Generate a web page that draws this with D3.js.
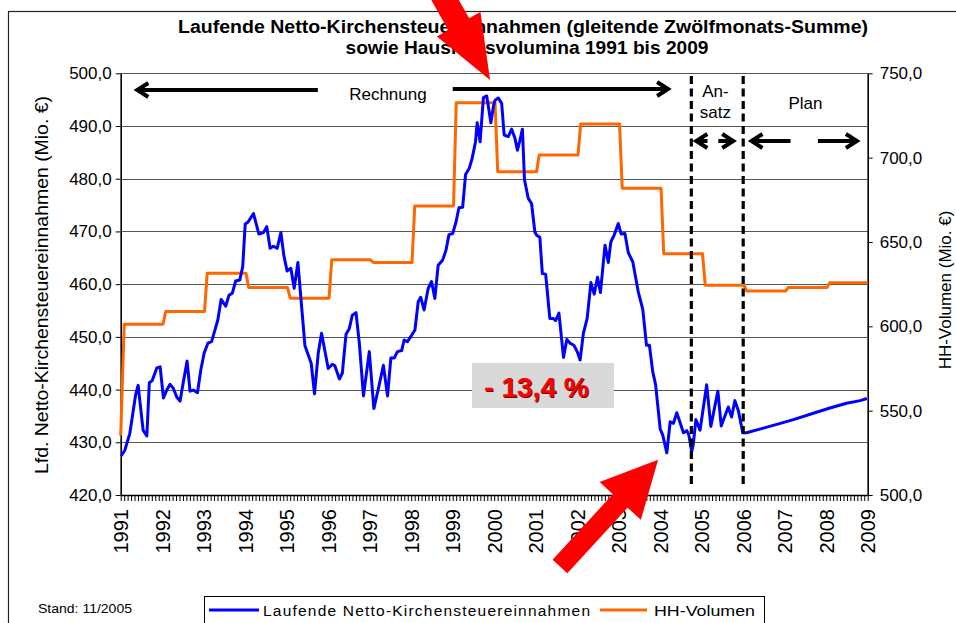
<!DOCTYPE html>
<html>
<head>
<meta charset="utf-8">
<script src="https://cdn.jsdelivr.net/npm/d3@7"></script>
<style>
  body { margin: 0; background: #fff; }
  svg { display: block; font-family: Arial, "Liberation Sans", sans-serif; }
</style>
</head>
<body>
<div id="chart"></div>
<script>
const w = 956, h = 623;
const plot = {left: 120.7, right: 867.7, top: 73.3, bottom: 495};

// axis ticks
const yearLabels = d3.range(1991, 2010);
const leftTicks = [420, 430, 440, 450, 460, 470, 480, 490, 500];
const rightTicks = [500, 550, 600, 650, 700, 750];

// laufende Netto-Kirchensteuereinnahmen (Mio. EUR)
const blueYears = [1991.01,1991.10,1991.22,1991.36,1991.42,1991.54,1991.63,1991.69,1991.76,1991.87,
  1991.95,1992.03,1992.11,1992.19,1992.27,1992.35,1992.43,1992.51,1992.60,1992.67,
  1992.75,1992.85,1992.93,1993.01,1993.10,1993.19,1993.26,1993.34,1993.42,1993.53,
  1993.61,1993.69,1993.77,1993.87,1993.94,1994.00,1994.07,1994.20,1994.33,1994.44,
  1994.52,1994.60,1994.68,1994.77,1994.86,1994.93,1995.01,1995.10,1995.18,1995.27,
  1995.36,1995.44,1995.59,1995.67,1995.76,1995.84,1996.00,1996.10,1996.16,1996.27,
  1996.34,1996.43,1996.51,1996.58,1996.67,1996.75,1996.85,1996.99,1997.10,1997.21,
  1997.33,1997.43,1997.51,1997.59,1997.67,1997.77,1997.83,1997.91,1998.01,1998.09,
  1998.17,1998.23,1998.31,1998.41,1998.49,1998.57,1998.65,1998.76,1998.84,1998.91,
  1999.00,1999.08,1999.15,1999.24,1999.31,1999.40,1999.47,1999.55,1999.59,1999.66,
  1999.74,1999.82,1999.92,1999.98,2000.02,2000.10,2000.18,2000.24,2000.34,2000.42,
  2000.50,2000.56,2000.62,2000.68,2000.73,2000.82,2000.90,2000.98,2001.02,2001.10,
  2001.16,2001.24,2001.34,2001.42,2001.48,2001.56,2001.67,2001.75,2001.83,2001.92,
  2002.00,2002.07,2002.15,2002.24,2002.33,2002.41,2002.49,2002.56,2002.67,2002.75,
  2002.81,2002.89,2002.99,2003.06,2003.15,2003.23,2003.34,2003.47,2003.58,2003.67,
  2003.74,2003.82,2003.89,2004.00,2004.06,2004.16,2004.24,2004.32,2004.40,2004.56,
  2004.64,2004.69,2004.76,2004.80,2004.86,2004.96,2005.12,2005.22,2005.39,2005.47,
  2005.64,2005.72,2005.80,2005.88,2005.99,2006.08,2006.40,2006.81,2007.21,2007.69,
  2008.09,2008.49,2008.82,2008.98];
const blueValues = [427.4,428.5,431.7,439.0,440.8,432.3,431.2,441.3,441.7,444.1,
  444.3,438.4,439.9,441.0,440.2,438.6,437.8,441.5,445.4,439.7,
  439.9,439.4,443.7,446.9,448.8,449.1,451.0,453.2,457.1,455.8,
  457.9,458.3,460.6,460.8,463.3,471.4,471.8,473.4,469.5,469.8,
  470.9,466.8,467.2,466.8,469.8,465.5,462.5,463.0,459.2,464.1,
  455.7,448.3,445.0,439.2,446.9,450.7,444.0,444.8,444.5,442.0,
  443.1,450.5,451.6,454.1,454.6,448.8,438.8,447.2,436.4,440.2,
  444.6,438.8,446.0,446.0,447.2,447.4,449.4,449.1,450.3,451.3,
  456.7,457.5,455.1,459.2,460.5,457.3,463.6,464.6,466.5,469.4,
  469.6,471.8,474.5,474.6,480.8,482.0,483.9,487.0,490.6,487.0,
  495.4,495.7,490.6,493.7,494.9,495.3,494.3,488.3,488.0,489.4,
  487.7,485.4,487.3,489.4,479.8,476.3,475.3,469.9,469.3,468.9,
  462.0,461.9,453.5,453.5,453.1,454.5,446.1,449.5,448.8,448.4,
  447.2,445.6,450.7,453.5,460.3,458.1,461.3,458.4,467.4,464.1,
  468.0,469.3,471.5,469.5,469.6,466.0,464.2,458.6,455.2,448.4,
  448.4,443.4,440.9,432.5,431.4,428.0,433.9,433.6,435.6,431.8,
  432.2,431.4,428.2,429.8,434.3,432.3,440.9,433.0,439.7,433.1,
  436.7,434.8,437.9,436.1,431.8,431.8,432.5,433.4,434.3,435.5,
  436.5,437.4,437.9,438.3];

// HH-Volumen (Mio. EUR) per year, right axis
const hhYears = d3.range(1991, 2009);
const hhValues = [601.3, 608.8, 631.5, 623.0, 616.7, 639.4, 637.8, 671.4, 732.6,
  691.7, 701.6, 720.0, 681.9, 643.0, 624.4, 620.9, 623.0, 625.8];
const hhFirstMonth = 535.2;

const phaseBreaks = [2004.75, 2006.0];

const svg = d3.select("#chart").append("svg")
  .attr("width", w)
  .attr("height", h);

svg.append("rect").attr("width", w).attr("height", h).attr("fill", "#fff");

// outer frame
svg.append("rect")
  .attr("x", 8.5).attr("y", 11.5)
  .attr("width", 980).attr("height", 700)
  .attr("fill", "none").attr("stroke", "#222").attr("stroke-width", 1.2);

const x = d3.scaleLinear().domain([1991, 2009]).range([plot.left, plot.right]);
const yL = d3.scaleLinear().domain([420, 500]).range([plot.bottom, plot.top]);
const yR = d3.scaleLinear().domain([500, 750]).range([plot.bottom, plot.top]);

const fmt = d => d3.format(".1f")(d).replace(".", ",");

// gridlines
svg.append("g")
  .selectAll("line")
  .data(leftTicks.slice(1))
  .enter()
  .append("line")
  .attr("x1", plot.left).attr("x2", plot.right)
  .attr("y1", d => Math.round(yL(d)) + 0.5).attr("y2", d => Math.round(yL(d)) + 0.5)
  .attr("stroke", "#555").attr("stroke-width", 1);

// left axis
const leftAxis = svg.append("g")
  .attr("transform", "translate(" + plot.left + ",0)")
  .call(d3.axisLeft(yL).tickValues(leftTicks).tickSize(5).tickSizeOuter(0).tickFormat(fmt));

// right axis
const rightAxis = svg.append("g")
  .attr("transform", "translate(" + plot.right + ",0)")
  .call(d3.axisRight(yR).tickValues(rightTicks).tickSize(5).tickSizeOuter(0).tickFormat(fmt));

// bottom axis with monthly ticks
const months = d3.range(0, 217).map(i => 1991 + i / 12);
const bottomAxis = svg.append("g")
  .attr("transform", "translate(0," + plot.bottom + ")")
  .call(d3.axisBottom(x).tickValues(months).tickSize(6).tickSizeOuter(0).tickFormat(""));

[leftAxis, rightAxis, bottomAxis].forEach(g => {
  g.select(".domain").attr("stroke", "#000").attr("stroke-width", 1.6);
  g.selectAll(".tick line").attr("stroke", "#000").attr("stroke-width", 1);
  g.selectAll(".tick text")
    .attr("fill", "#000")
    .style("font-size", "17px")
    .style("font-family", "Arial, 'Liberation Sans', sans-serif");
});
leftAxis.selectAll(".tick text").attr("x", -9);
rightAxis.selectAll(".tick text").attr("x", 12);

// year labels, rotated
svg.append("g")
  .selectAll("text")
  .data(yearLabels)
  .enter()
  .append("text")
  .attr("transform", d => "translate(" + (x(d) + 0.5) + ",509) rotate(-90)")
  .attr("text-anchor", "end")
  .attr("dy", "0.36em")
  .style("font-size", "20px")
  .text(d => d);

// axis titles
svg.append("text")
  .attr("transform", "translate(42,285) rotate(-90)")
  .attr("text-anchor", "middle")
  .attr("dy", "0.36em")
  .attr("textLength", 378).attr("lengthAdjust", "spacingAndGlyphs")
  .style("font-size", "18px")
  .text("Lfd. Netto-Kirchensteuereinnahmen (Mio. €)");

svg.append("text")
  .attr("transform", "translate(945,290) rotate(-90)")
  .attr("text-anchor", "middle")
  .attr("dy", "0.36em")
  .style("font-size", "17px")
  .text("HH-Volumen (Mio. €)");

// title
svg.append("text")
  .attr("x", 523).attr("y", 33)
  .attr("text-anchor", "middle")
  .attr("textLength", 690).attr("lengthAdjust", "spacingAndGlyphs")
  .style("font-size", "18px").style("font-weight", "bold")
  .text("Laufende Netto-Kirchensteuereinnahmen (gleitende Zwölfmonats-Summe)");
svg.append("text")
  .attr("x", 527).attr("y", 54)
  .attr("text-anchor", "middle")
  .attr("textLength", 363).attr("lengthAdjust", "spacingAndGlyphs")
  .style("font-size", "18px").style("font-weight", "bold")
  .text("sowie Haushaltsvolumina 1991 bis 2009");

// HH-Volumen step line
let hhPoints = [[1991.0, hhFirstMonth]];
hhYears.forEach((yr, i) => {
  hhPoints.push([yr + 0.085, hhValues[i]]);
  hhPoints.push([Math.min(yr + 1.02, 2009), hhValues[i]]);
});

svg.append("path")
  .datum(hhPoints)
  .attr("fill", "none")
  .attr("stroke", "#ff6600")
  .attr("stroke-width", 3)
  .attr("stroke-linejoin", "round")
  .attr("d", d3.line().x(d => x(d[0])).y(d => yR(d[1])));

// Kirchensteuer line
const blue = d3.zip(blueYears, blueValues);
svg.append("path")
  .datum(blue)
  .attr("fill", "none")
  .attr("stroke", "#0000ff")
  .attr("stroke-width", 3)
  .attr("stroke-linejoin", "round")
  .attr("d", d3.line().x(d => x(d[0])).y(d => yL(d[1])));

// phase separators
svg.append("g")
  .selectAll("line")
  .data(phaseBreaks)
  .enter()
  .append("line")
  .attr("x1", d => x(d)).attr("x2", d => x(d))
  .attr("y1", 76).attr("y2", 484)
  .attr("stroke", "#000").attr("stroke-width", 3.2)
  .attr("stroke-dasharray", "8,4.5");

// black arrows
function arrow(x1, x2, yy) {
  const dir = x2 > x1 ? -1 : 1;
  svg.append("line")
    .attr("x1", x1).attr("x2", x2 + dir * 2).attr("y1", yy).attr("y2", yy)
    .attr("stroke", "#000").attr("stroke-width", 4);
  svg.append("path")
    .attr("d", "M" + (x2 + dir * 11) + "," + (yy - 7) + "L" + x2 + "," + yy + "L" + (x2 + dir * 11) + "," + (yy + 7))
    .attr("fill", "none").attr("stroke", "#000").attr("stroke-width", 4)
    .attr("stroke-linejoin", "miter");
}
arrow(x(1995.75), x(1991.4), 90);
arrow(x(1999.0), x(2004.19), 89);
arrow(x(2005.14), x(2004.87), 141);
arrow(x(2005.4), x(2005.76), 141);
arrow(x(2007.14), x(2006.2), 141);
arrow(x(2007.8), x(2008.74), 141);

const note = (tx, ty, str) => svg.append("text")
  .attr("x", tx).attr("y", ty).attr("text-anchor", "middle")
  .attr("dy", "0.35em").style("font-size", "17px").text(str);
note(x(1997.44), 94, "Rechnung");
note(x(2005.33), 91, "An-");
note(x(2005.33), 112, "satz");
note(x(2007.5), 103, "Plan");

// -13,4 % label
svg.append("rect")
  .attr("x", 472).attr("y", 363)
  .attr("width", 142).attr("height", 45)
  .attr("fill", "#d9d9d9");
svg.append("text")
  .attr("x", 537.5).attr("y", 397.5)
  .attr("text-anchor", "middle")
  .style("font-size", "28px").style("font-weight", "bold")
  .attr("fill", "#6a0000")
  .text("- 13,4 %");
svg.append("text")
  .attr("x", 536.5).attr("y", 396.5)
  .attr("text-anchor", "middle")
  .style("font-size", "28px").style("font-weight", "bold")
  .attr("fill", "#ff0000")
  .text("- 13,4 %");

// big red arrows
function blockArrow(tail, tip, shaftW, headW, headL) {
  const dx = tip[0] - tail[0], dy = tip[1] - tail[1];
  const len = Math.hypot(dx, dy);
  const ux = dx / len, uy = dy / len;
  const nx = -uy, ny = ux;
  const bx = tip[0] - ux * headL, by = tip[1] - uy * headL;
  const pts = [
    [tail[0] + nx * shaftW / 2, tail[1] + ny * shaftW / 2],
    [bx + nx * shaftW / 2, by + ny * shaftW / 2],
    [bx + nx * headW / 2, by + ny * headW / 2],
    tip,
    [bx - nx * headW / 2, by - ny * headW / 2],
    [bx - nx * shaftW / 2, by - ny * shaftW / 2],
    [tail[0] - nx * shaftW / 2, tail[1] - ny * shaftW / 2]
  ];
  svg.append("polygon")
    .attr("points", pts.map(p => p.join(",")).join(" "))
    .attr("fill", "#ff0000");
}
blockArrow([431, -25], [x(1999.9), 80], 24, 50, 64);
blockArrow([560, 566.4], [x(2003.95), yL(426.7)], 20, 56, 56);

// legend
svg.append("rect")
  .attr("x", 204.5).attr("y", 596.5)
  .attr("width", 560).attr("height", 60)
  .attr("fill", "#fff").attr("stroke", "#000").attr("stroke-width", 1);
svg.append("line").attr("x1", 209).attr("x2", 259).attr("y1", 610).attr("y2", 610)
  .attr("stroke", "#0000ff").attr("stroke-width", 3);
svg.append("text").attr("x", 263).attr("y", 610).attr("dy", "0.36em")
  .attr("textLength", 327).attr("lengthAdjust", "spacing")
  .style("font-size", "15.5px").text("Laufende Netto-Kirchensteuereinnahmen");
svg.append("line").attr("x1", 600).attr("x2", 647).attr("y1", 610).attr("y2", 610)
  .attr("stroke", "#ff6600").attr("stroke-width", 3);
svg.append("text").attr("x", 654).attr("y", 610).attr("dy", "0.36em")
  .attr("textLength", 101).attr("lengthAdjust", "spacingAndGlyphs")
  .style("font-size", "15.5px").text("HH-Volumen");

svg.append("text").attr("x", 38).attr("y", 608).attr("dy", "0.36em")
  .attr("textLength", 94).attr("lengthAdjust", "spacingAndGlyphs")
  .style("font-size", "13px").text("Stand: 11/2005");
</script>
</body>
</html>
